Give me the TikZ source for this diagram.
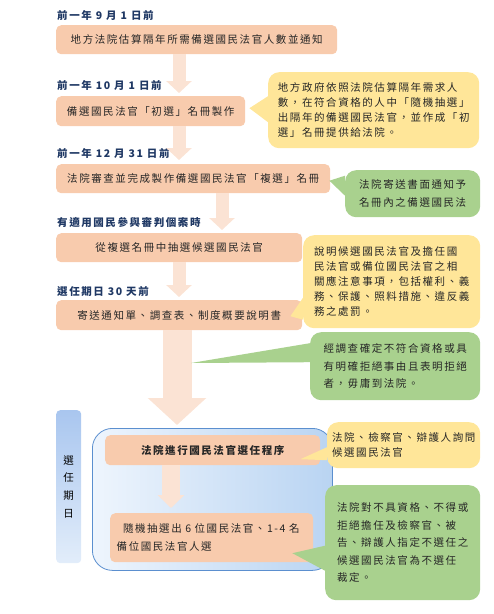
\documentclass[tikz,border=0pt]{standalone}
\usepackage{fontspec}
\setmainfont{Noto Sans CJK TC}[LetterSpace=15]
\usetikzlibrary{positioning, arrows.meta}
\definecolor{BoxSalmon}{HTML}{F8CBAD}
\definecolor{ArrowPink}{HTML}{FBE3D4}
\definecolor{NoteYellow}{HTML}{FFE699}
\definecolor{NoteGreen}{HTML}{A9D18E}
\definecolor{DateNavy}{HTML}{1F3864}
\definecolor{FrameBlue}{HTML}{5B8FCF}
\definecolor{FrameLight}{HTML}{EEF5FD}
\definecolor{FrameDeep}{HTML}{B9D4F2}
\definecolor{BarTop}{HTML}{A9C6EF}
\definecolor{BarBottom}{HTML}{E2EDFA}

\tikzset{
  procbox/.style={fill=BoxSalmon, rounded corners=5pt, anchor=north west, inner sep=0pt,
    text=black!85, font=\fontsize{10.5}{18}\selectfont},
  datelabel/.style={anchor=west, inner sep=0pt, text=DateNavy, font=\bfseries\fontsize{10.5}{12}\selectfont},
  yelnote/.style={fill=NoteYellow, rounded corners=11pt, anchor=north west, inner sep=0pt,
    align=left, text=black!85, font=\fontsize{10.5}{15}\selectfont},
  grnnote/.style={fill=NoteGreen, rounded corners=11pt, anchor=north west, inner sep=0pt,
    align=left, text=black!85, font=\fontsize{10.5}{17.5}\selectfont},
  flow/.style={draw=ArrowPink, line width=13pt, -{Triangle[width=25pt, length=12pt]}},
}

\begin{document}
\begin{tikzpicture}[x=1pt, y=-1pt]
  \useasboundingbox (0,0) rectangle (494,614);

  % Dates
  \node[datelabel] (when1) at (57,15) {前一年 9 月 1 日前};
  \node[datelabel] (when2) at (57,85) {前一年 10 月 1 日前};
  \node[datelabel] (when3) at (57,153) {前一年 12 月 31 日前};
  \node[datelabel] (when4) at (57,222) {有適用國民參與審判個案時};
  \node[datelabel] (when5) at (57,292) {選任期日 30 天前};

  % Steps
  \node[procbox, minimum width=281pt, minimum height=29pt] (notify) at (56,25) {地方法院估算隔年所需備選國民法官人數並通知};
  \node[procbox, minimum width=189pt, minimum height=30pt] (prelim) at (56,96) {備選國民法官「初選」名冊製作};
  \node[procbox, minimum width=274pt, minimum height=29pt] (review) at (56,164) {法院審查並完成製作備選國民法官「複選」名冊};
  \node[procbox, minimum width=246pt, minimum height=29pt] (candidates) at (56,233) {從複選名冊中抽選候選國民法官};
  \node[procbox, minimum width=246pt, minimum height=30pt] (mailing) at (56,300) {寄送通知單、調查表、制度概要說明書};

  % Selection day
  \node[anchor=north west, rounded corners=4pt, top color=BarTop, bottom color=BarBottom,
    minimum width=25pt, minimum height=153pt, inner sep=0pt, align=center,
    font=\fontsize{10.5}{17.7}\selectfont] (period) at (56,410) {選\\任\\期\\日};
  \node[anchor=north west, rounded corners=20pt, draw=FrameBlue, line width=0.8pt,
    left color=FrameLight, right color=FrameDeep,
    minimum width=240pt, minimum height=142pt] (selection) at (92,428) {};
  \node[procbox, minimum width=215pt, minimum height=30pt, font=\bfseries\fontsize{10.5}{18}\selectfont] (court) at (105,435) {法院進行國民法官選任程序};
  \node[procbox, minimum width=203pt, minimum height=49pt, text width=190pt, align=left] (final) at (110,513)
    {\hspace{0.6em}隨機抽選出 6 位國民法官、1-4 名\\備位國民法官人選};

  % Arrows
  \coordinate (colA) at (179,0);
  \coordinate (colB) at (222,0);
  \coordinate (colC) at (177,0);
  \coordinate (colD) at (171,0);
  \draw[flow, shorten >=3pt] (notify.south -| colA) -- (prelim.north -| colA);
  \draw[flow, shorten >=4pt] (prelim.south -| colA) -- (review.north -| colA);
  \draw[flow, shorten >=3pt] (review.south -| colB) -- (candidates.north -| colB);
  \draw[flow, shorten >=3pt] (candidates.south -| colA) -- (mailing.north -| colA);
  \draw[flow, line width=29pt, -{Triangle[width=57pt, length=27pt]}, shorten >=3pt]
    (mailing.south -| colC) -- (selection.north -| colC);
  \draw[flow, line width=18pt, -{Triangle[width=26pt, length=13pt]}, shorten >=5pt]
    (court.south -| colD) -- (final.north -| colD);

  % Notes
  \node[yelnote, minimum width=211pt, minimum height=76pt] (note1) at (268,72)
    {地方政府依照法院估算隔年需求人\\數，在符合資格的人中「隨機抽選」\\出隔年的備選國民法官，並作成「初\\選」名冊提供給法院。};
  \node[grnnote, minimum width=135pt, minimum height=47pt] (note2) at (345,170)
    {法院寄送書面通知予\\名冊內之備選國民法};
  \node[yelnote, minimum width=177pt, minimum height=93pt] (note3) at (303,235)
    {說明候選國民法官及擔任國\\民法官或備位國民法官之相\\關應注意事項，包括權利、義\\務、保護、照料措施、違反義\\務之處罰。};
  \node[grnnote, minimum width=170pt, minimum height=68pt] (note4) at (310,332)
    {經調查確定不符合資格或具\\有明確拒絕事由且表明拒絕\\者，毋庸到法院。};
  \node[yelnote, minimum width=153pt, minimum height=46pt, font=\fontsize{10.5}{14.5}\selectfont] (note5) at (327,422)
    {法院、檢察官、辯護人詢問\\候選國民法官};
  \node[grnnote, minimum width=155pt, minimum height=115pt] (note6) at (325,485)
    {法院對不具資格、不得或\\拒絕擔任及檢察官、被\\告、辯護人指定不選任之\\候選國民法官為不選任\\裁定。};

  % Pointers
  \coordinate (refusetip) at (191,363);
  \fill[NoteYellow] ([yshift=14pt]note1.west) -- ([xshift=4pt, yshift=3pt]prelim.east) -- ([yshift=-12pt]note1.west) -- cycle;
  \fill[NoteGreen] ([yshift=18pt]note2.west) -- ([xshift=-1pt, yshift=-2pt]review.east) -- ([yshift=-2pt]note2.west) -- cycle;
  \fill[NoteYellow] ([yshift=-16pt]note3.west) -- ([xshift=-12pt, yshift=-1pt]mailing.east) -- ([yshift=-38pt]note3.west) -- cycle;
  \fill[NoteGreen] ([yshift=23pt]note4.west) -- (refusetip) -- ([yshift=4pt]note4.west) -- cycle;
  \fill[NoteYellow] ([yshift=-2pt]note5.west) -- ([xshift=-20pt, yshift=-9pt]court.east) -- ([yshift=-15pt]note5.west) -- cycle;
  \fill[NoteGreen] ([yshift=-3pt]note6.west) -- ([xshift=-21pt, yshift=-15.5pt]final.east) -- ([yshift=-28pt]note6.west) -- cycle;
\end{tikzpicture}
\end{document}
